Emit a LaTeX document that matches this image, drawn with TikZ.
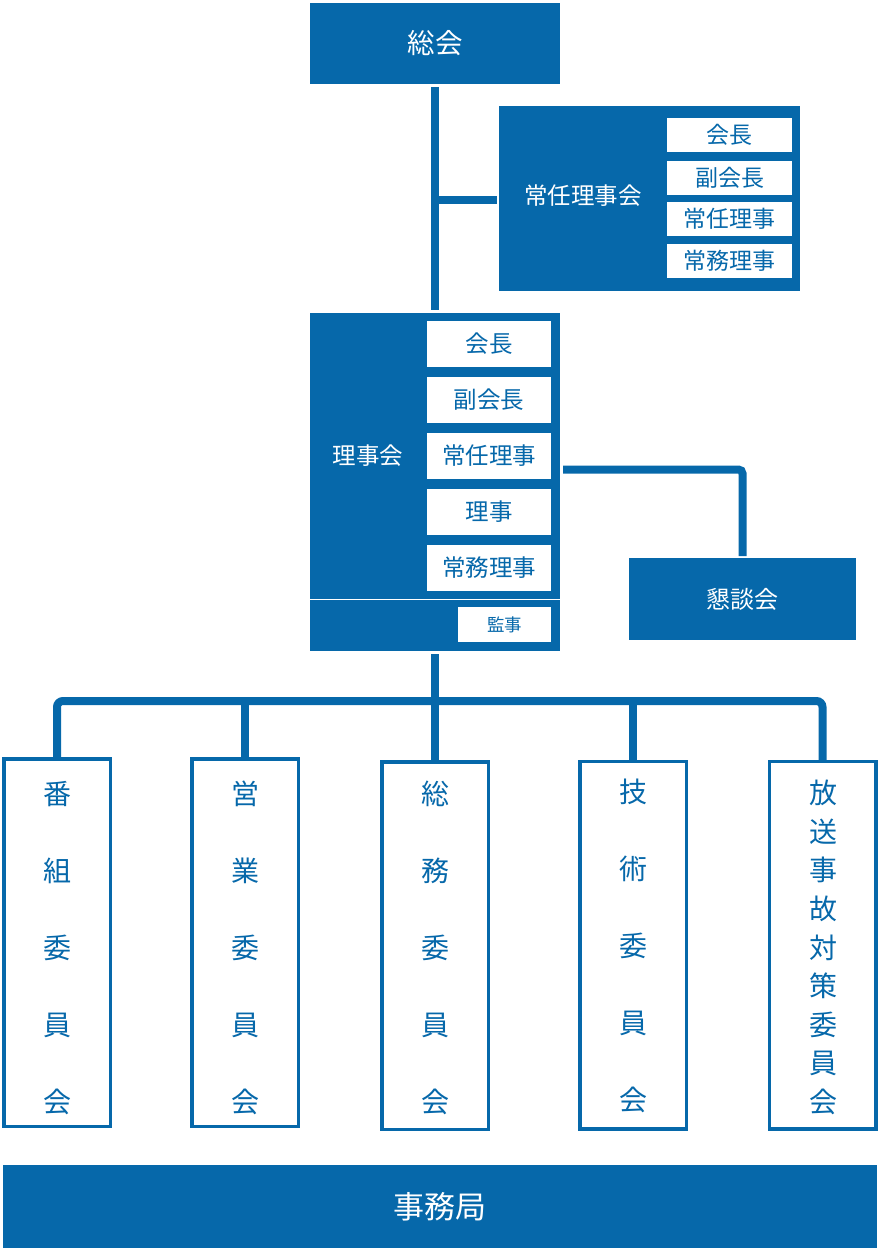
\documentclass[tikz,border=0pt]{standalone}
\usepackage{fontspec}
\setmainfont{Noto Sans CJK JP}
\definecolor{bl}{HTML}{0668AA}
\begin{document}
\begin{tikzpicture}[x=1pt,y=-1pt,
  bluebox/.style={fill=bl, draw=none, inner sep=0pt, outer sep=0pt, text=white},
  lbl/.style={inner sep=0pt, text=white, font=\fontsize{23.5}{26}\selectfont},
  jsub/.style={fill=white, draw=none, inner sep=0pt, outer sep=0pt, text=bl,
    minimum width=125pt, minimum height=34pt, font=\fontsize{23}{26}\selectfont},
  rsub/.style={fill=white, draw=none, inner sep=0pt, outer sep=0pt, text=bl,
    minimum width=124pt, minimum height=46pt, font=\fontsize{23.5}{26}\selectfont},
  conn/.style={draw=bl, line width=8pt},
  cbox/.style={draw=bl, line width=3.5pt, fill=white, inner sep=0pt, outer sep=0pt,
    minimum width=106.5pt, minimum height=367.5pt},
  ctext/.style={inner sep=0pt, text=bl, align=center, font=\fontsize{28}{77}\selectfont},
]
\useasboundingbox (0,0) rectangle (880,1252);

% top
\node[bluebox, minimum width=250pt, minimum height=81pt, font=\fontsize{27.5}{30}\selectfont] (sokai) at (435,43.5) {総会};

% 常任理事会
\node[bluebox, minimum width=301pt, minimum height=185pt] (jonin) at (649.5,198.5) {};
\node[lbl] (joninlbl) at (583,196) {常任理事会};
\node[jsub] (j1) at (729.5,135) {会長};
\node[jsub] (j2) at (729.5,178) {副会長};
\node[jsub] (j3) at (729.5,218.5) {常任理事};
\node[jsub] (j4) at (729.5,261) {常務理事};

% 理事会
\node[bluebox, minimum width=250pt, minimum height=338pt] (riji) at (435,482) {};
\node[lbl] (rijilbl) at (368,456) {理事会};
\node[rsub] (r1) at (489,344) {会長};
\node[rsub] (r2) at (489,400) {副会長};
\node[rsub] (r3) at (489,455.5) {常任理事};
\node[rsub] (r4) at (489,511.5) {理事};
\node[rsub] (r5) at (489,567.5) {常務理事};
\coordinate (divy) at (0,599.5);
\draw[white, line width=1.6pt] (riji.west |- divy) -- (riji.east |- divy);
\node[fill=white, inner sep=0pt, outer sep=0pt, text=bl, minimum width=93pt, minimum height=35pt,
  font=\fontsize{17.5}{20}\selectfont] (kanji) at (504.5,624.5) {監事};

% 懇談会
\node[bluebox, minimum width=227pt, minimum height=82pt, font=\fontsize{24}{26}\selectfont] (kondan) at (742.5,599) {懇談会};

% committees
\node[cbox] (c1) at (57,942.5) {};
\node[cbox] (c2) at (245,942.5) {};
\node[cbox] (c3) at (435,945.5) {};
\node[cbox] (c4) at (633,945) {};
\node[cbox] (c5) at (822.5,945) {};
\node[ctext] (c1t) at (57,948) {番\\組\\委\\員\\会};
\node[ctext] (c2t) at (245,948) {営\\業\\委\\員\\会};
\node[ctext] (c3t) at (435,948) {総\\務\\委\\員\\会};
\node[ctext] (c4t) at (633,946) {技\\術\\委\\員\\会};
\node[ctext, font=\fontsize{28}{38.6}\selectfont] (c5t) at (823,947.5) {放\\送\\事\\故\\対\\策\\委\\員\\会};

% 事務局
\node[bluebox, minimum width=874pt, minimum height=83pt, font=\fontsize{31}{34}\selectfont] (jimu) at (440,1206.5) {事務局};

% connectors
\draw[conn, shorten <=3pt, shorten >=3pt] (sokai.south) -- (riji.north);
\coordinate (jb) at (435,200);
\draw[conn, shorten >=2pt] (jb) -- (jb -| jonin.west);
\coordinate (kj) at (563,469.5);
\draw[conn, rounded corners=4pt, shorten >=2pt] (kj) -| (kondan.north);
\coordinate (bus) at (435,701);
\draw[conn, shorten <=3pt] (riji.south) -- (bus);
\draw[conn, rounded corners=6pt] (c1.north) |- (c5.north |- bus) -- (c5.north);
\draw[conn] (c2.north |- bus) -- (c2.north);
\draw[conn] (bus) -- (c3.north);
\draw[conn] (c4.north |- bus) -- (c4.north);
\end{tikzpicture}
\end{document}
